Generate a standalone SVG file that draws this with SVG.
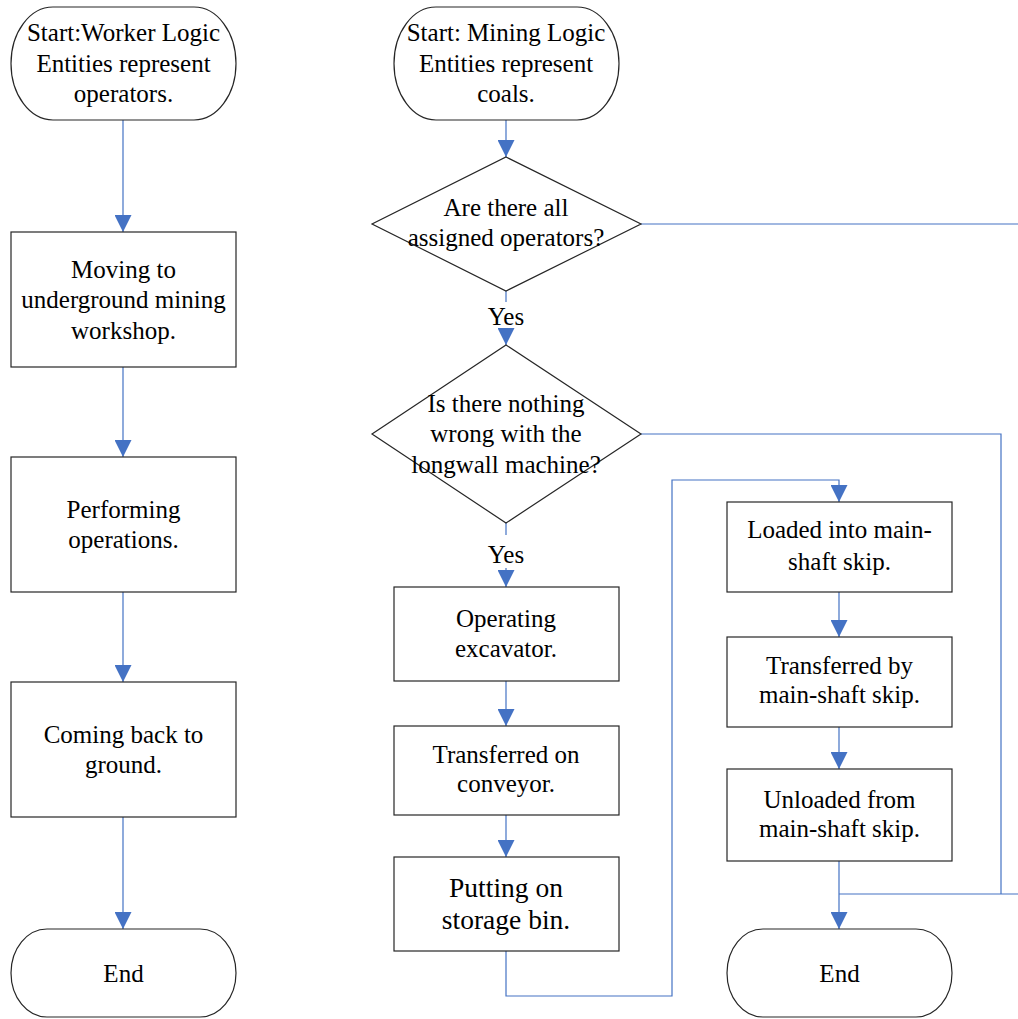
<svg xmlns="http://www.w3.org/2000/svg" width="1018" height="1019" viewBox="0 0 1018 1019">
<style>
.s{fill:#fff;stroke:#262626;stroke-width:1.2}
.t{font-family:"Liberation Serif","Times New Roman",serif;font-size:25px;fill:#000;text-anchor:middle}
.b{font-size:27.5px}
.c{fill:none;stroke:#4472C4;stroke-width:1.2}
</style>
<defs>
<marker id="ah" viewBox="0 0 17 17" refX="17" refY="8.5" markerWidth="17" markerHeight="17" markerUnits="userSpaceOnUse" orient="auto">
<path d="M0 0L17 8.5L0 17z" fill="#4472C4"/>
</marker>
</defs>
<rect width="1018" height="1019" fill="#fff"/>
<g id="connectors">
<path class="c" d="M123 120V232" marker-end="url(#ah)"/>
<path class="c" d="M123 367V457" marker-end="url(#ah)"/>
<path class="c" d="M123 592V682" marker-end="url(#ah)"/>
<path class="c" d="M123 817V929" marker-end="url(#ah)"/>
<path class="c" d="M506 120V157" marker-end="url(#ah)"/>
<path class="c" d="M506 291V302"/>
<path class="c" d="M506 328V345" marker-end="url(#ah)"/>
<path class="c" d="M506 523V535"/>
<path class="c" d="M506 568V587" marker-end="url(#ah)"/>
<path class="c" d="M506 681V726" marker-end="url(#ah)"/>
<path class="c" d="M506 815V857" marker-end="url(#ah)"/>
<path class="c" d="M506 951V996H672V480H839V502" marker-end="url(#ah)"/>
<path class="c" d="M839 592V637" marker-end="url(#ah)"/>
<path class="c" d="M839 727V769" marker-end="url(#ah)"/>
<path class="c" d="M839 861V929" marker-end="url(#ah)"/>
<path class="c" d="M641 224H1030V894H839"/>
<path class="c" d="M641 434H1001V894"/>
<text class="t" x="506" y="325">Yes</text>
<text class="t" x="506" y="563">Yes</text>
</g>
<g id="startWorker">
<rect class="s" x="11" y="7" width="225" height="113" rx="42" ry="56.5"/>
<text class="t" x="123.5" y="41">Start:Worker Logic</text>
<text class="t" x="123.5" y="72">Entities represent</text>
<text class="t" x="123.5" y="102">operators.</text>
</g>
<g id="moving">
<rect class="s" x="11" y="232" width="225" height="135"/>
<text class="t" x="123.5" y="278">Moving to</text>
<text class="t" x="123.5" y="308">underground mining</text>
<text class="t" x="123.5" y="339">workshop.</text>
</g>
<g id="performing">
<rect class="s" x="11" y="457" width="225" height="135"/>
<text class="t" x="123.5" y="518">Performing</text>
<text class="t" x="123.5" y="548">operations.</text>
</g>
<g id="coming">
<rect class="s" x="11" y="682" width="225" height="135"/>
<text class="t" x="123.5" y="743">Coming back to</text>
<text class="t" x="123.5" y="773">ground.</text>
</g>
<g id="endLeft">
<rect class="s" x="11" y="929" width="225" height="88" rx="36" ry="44"/>
<text class="t" x="123.5" y="982">End</text>
</g>
<g id="startMining">
<rect class="s" x="394" y="7" width="225" height="113" rx="42" ry="56.5"/>
<text class="t" x="506" y="41">Start: Mining Logic</text>
<text class="t" x="506" y="72">Entities represent</text>
<text class="t" x="506" y="102">coals.</text>
</g>
<g id="decision1">
<path class="s" d="M506 157L641 224L506 291L372 224z"/>
<text class="t" x="506" y="216">Are there all</text>
<text class="t" x="506" y="246">assigned operators?</text>
</g>
<g id="decision2">
<path class="s" d="M506 345L641 434L506 523L372 434z"/>
<text class="t" x="506" y="412">Is there nothing</text>
<text class="t" x="506" y="442">wrong with the</text>
<text class="t" x="506" y="473">longwall machine?</text>
</g>
<g id="operating">
<rect class="s" x="394" y="587" width="225" height="94"/>
<text class="t" x="506" y="627">Operating</text>
<text class="t" x="506" y="657">excavator.</text>
</g>
<g id="conveyor">
<rect class="s" x="394" y="726" width="225" height="89"/>
<text class="t" x="506" y="763">Transferred on</text>
<text class="t" x="506" y="792">conveyor.</text>
</g>
<g id="storage">
<rect class="s" x="394" y="857" width="225" height="94"/>
<text class="t b" x="506" y="897">Putting on</text>
<text class="t b" x="506" y="929">storage bin.</text>
</g>
<g id="loaded">
<rect class="s" x="727" y="502" width="225" height="90"/>
<text class="t" x="839.5" y="538">Loaded into main-</text>
<text class="t" x="839.5" y="570">shaft skip.</text>
</g>
<g id="transferredSkip">
<rect class="s" x="727" y="637" width="225" height="90"/>
<text class="t" x="839.5" y="674">Transferred by</text>
<text class="t" x="839.5" y="703">main-shaft skip.</text>
</g>
<g id="unloaded">
<rect class="s" x="727" y="769" width="225" height="92"/>
<text class="t" x="839.5" y="808">Unloaded from</text>
<text class="t" x="839.5" y="837">main-shaft skip.</text>
</g>
<g id="endRight">
<rect class="s" x="727" y="929" width="225" height="88" rx="36" ry="44"/>
<text class="t" x="839.5" y="982">End</text>
</g>
</svg>
